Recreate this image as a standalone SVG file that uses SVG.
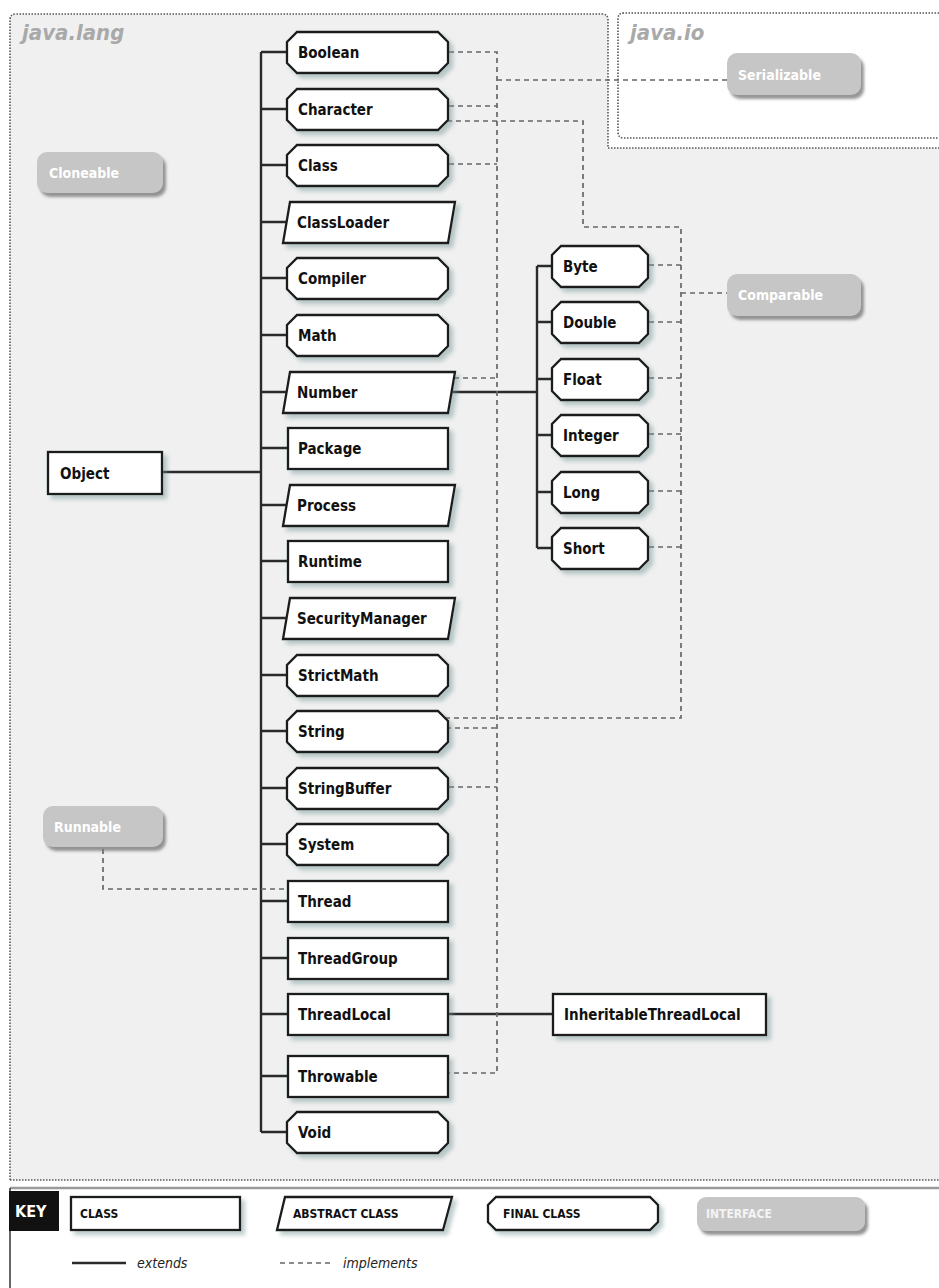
<svg xmlns="http://www.w3.org/2000/svg" width="939" height="1288" viewBox="0 0 939 1288">
  <defs>
    <filter id="sh" x="-10%" y="-20%" width="130%" height="160%">
      <feDropShadow dx="4" dy="4" stdDeviation="2" flood-color="#6f8f8f" flood-opacity="0.45"/>
    </filter>
    <filter id="ish" x="-10%" y="-20%" width="130%" height="160%">
      <feDropShadow dx="3" dy="4" stdDeviation="1.5" flood-color="#7a7a7a" flood-opacity="0.8"/>
    </filter>
    <style>
      .cls { fill: #ffffff; stroke: #1e1e1e; stroke-width: 2.3; filter: url(#sh); }
      .ifc { fill: #c6c6c6; filter: url(#ish); }
      .lbl { font-family: "DejaVu Sans Condensed", "DejaVu Sans", sans-serif; font-stretch: condensed; font-weight: bold; font-size: 15px; fill: #111111; }
      .ilbl { font-family: "DejaVu Sans Condensed", "DejaVu Sans", sans-serif; font-stretch: condensed; font-weight: bold; font-size: 14px; fill: #ffffff; }
      .pkg { font-family: "DejaVu Sans Condensed", "DejaVu Sans", sans-serif; font-stretch: condensed; font-weight: bold; font-style: italic; font-size: 22px; fill: #a9a9a9; }
      .klbl { font-family: "DejaVu Sans Condensed", "DejaVu Sans", sans-serif; font-stretch: condensed; font-weight: bold; font-size: 12px; fill: #111111; }
      .kit { font-family: "DejaVu Sans Condensed", "DejaVu Sans", sans-serif; font-stretch: condensed; font-style: italic; font-size: 14px; fill: #222222; }
      .ext { fill: none; stroke: #2a2a2a; stroke-width: 2.4; }
      .impl { fill: none; stroke: #666666; stroke-width: 1.7; stroke-dasharray: 5 4; }
      .bound { fill: none; stroke: #555555; stroke-width: 1.6; stroke-dasharray: 1.5 1.5; }
    </style>
  </defs>

  <!-- package areas -->
  <g id="pkg-java-lang">
    <path d="M10,1180 V20 Q10,14 16,14 H602 Q608,14 608,20 V148 H939 V1180 Z" fill="#f0f0f0"/>
    <path class="bound" d="M10,1180 V20 Q10,14 16,14 H602 Q608,14 608,20 V148 H939"/>
    <path class="bound" d="M10,1180 H939"/>
    <text class="pkg" x="22" y="40">java.lang</text>
  </g>
  <g id="pkg-java-io">
    <path class="bound" d="M945,13 H624 Q618,13 618,19 V132 Q618,138 624,138 H945"/>
    <text class="pkg" x="630" y="40">java.io</text>
  </g>

  <!-- connectors -->
  <g id="connectors">
    <!-- extends -->
    <path class="ext" d="M162,472 H261"/>
    <path class="ext" d="M261,52 V1132"/>
    <path class="ext" d="M261,52 H288 M261,109 H288 M261,165 H288 M261,222 H287 M261,278 H288 M261,335 H288 M261,392 H286 M261,448 H288 M261,505 H286 M261,561 H288 M261,618 H286 M261,675 H288 M261,731 H288 M261,788 H288 M261,844 H288 M261,901 H288 M261,958 H288 M261,1014 H288 M261,1076 H288 M261,1132 H288"/>
    <path class="ext" d="M452,392 H537 M537,266 V548"/>
    <path class="ext" d="M537,266 H552 M537,322 H552 M537,379 H552 M537,435 H552 M537,492 H552 M537,548 H552"/>
    <path class="ext" d="M448,1014 H553"/>
    <!-- implements: Serializable -->
    <path class="impl" d="M449,52 H497 V1073 H449"/>
    <path class="impl" d="M449,106 H497 M449,164 H497 M454,378 H497 M446,728 H497 M449,787 H497"/>
    <path class="impl" d="M497,80 H727"/>
    <!-- implements: Comparable -->
    <path class="impl" d="M447,121 H583 V227 H681 V718 H445"/>
    <path class="impl" d="M649,265 H681 M649,322 H681 M649,378 H681 M649,434 H681 M649,491 H681 M649,547 H681"/>
    <path class="impl" d="M681,293 H727"/>
    <!-- implements: Runnable -->
    <path class="impl" d="M103,849 V889 H288"/>
  </g>

  <!-- interfaces -->
  <g id="Cloneable"><rect class="ifc" x="37" y="152" width="126" height="41" rx="10"/><text class="ilbl" x="49" y="178">Cloneable</text></g>
  <g id="Serializable"><rect class="ifc" x="727" y="53" width="134" height="42" rx="10"/><text class="ilbl" x="738" y="80">Serializable</text></g>
  <g id="Comparable"><rect class="ifc" x="727" y="274" width="134" height="42" rx="10"/><text class="ilbl" x="738" y="300">Comparable</text></g>
  <g id="Runnable"><rect class="ifc" x="43" y="806" width="120" height="41" rx="10"/><text class="ilbl" x="54" y="832">Runnable</text></g>

  <!-- classes -->
  <g id="Object"><rect class="cls" x="48" y="452" width="114" height="42"/><text class="lbl" x="60" y="479">Object</text></g>

  <g id="Boolean"><polygon class="cls" points="297,32 438,32 448,42 448,63 438,73 297,73 287,63 287,42"/><text class="lbl" x="298" y="58">Boolean</text></g>
  <g id="Character"><polygon class="cls" points="297,89 438,89 448,99 448,120 438,130 297,130 287,120 287,99"/><text class="lbl" x="298" y="115">Character</text></g>
  <g id="Class"><polygon class="cls" points="297,145 438,145 448,155 448,176 438,186 297,186 287,176 287,155"/><text class="lbl" x="298" y="171">Class</text></g>
  <g id="ClassLoader"><polygon class="cls" points="290,202 455,202 448,243 283,243"/><text class="lbl" x="297" y="228">ClassLoader</text></g>
  <g id="Compiler"><polygon class="cls" points="297,258 438,258 448,268 448,289 438,299 297,299 287,289 287,268"/><text class="lbl" x="298" y="284">Compiler</text></g>
  <g id="Math"><polygon class="cls" points="297,315 438,315 448,325 448,346 438,356 297,356 287,346 287,325"/><text class="lbl" x="298" y="341">Math</text></g>
  <g id="Number"><polygon class="cls" points="290,372 455,372 448,413 283,413"/><text class="lbl" x="297" y="398">Number</text></g>
  <g id="Package"><rect class="cls" x="288" y="428" width="160" height="41"/><text class="lbl" x="298" y="454">Package</text></g>
  <g id="Process"><polygon class="cls" points="290,485 455,485 448,526 283,526"/><text class="lbl" x="297" y="511">Process</text></g>
  <g id="Runtime"><rect class="cls" x="288" y="541" width="160" height="41"/><text class="lbl" x="298" y="567">Runtime</text></g>
  <g id="SecurityManager"><polygon class="cls" points="290,598 455,598 448,639 283,639"/><text class="lbl" x="297" y="624">SecurityManager</text></g>
  <g id="StrictMath"><polygon class="cls" points="297,655 438,655 448,665 448,686 438,696 297,696 287,686 287,665"/><text class="lbl" x="298" y="681">StrictMath</text></g>
  <g id="String"><polygon class="cls" points="297,711 438,711 448,721 448,742 438,752 297,752 287,742 287,721"/><text class="lbl" x="298" y="737">String</text></g>
  <g id="StringBuffer"><polygon class="cls" points="297,768 438,768 448,778 448,799 438,809 297,809 287,799 287,778"/><text class="lbl" x="298" y="794">StringBuffer</text></g>
  <g id="System"><polygon class="cls" points="297,824 438,824 448,834 448,855 438,865 297,865 287,855 287,834"/><text class="lbl" x="298" y="850">System</text></g>
  <g id="Thread"><rect class="cls" x="288" y="881" width="160" height="41"/><text class="lbl" x="298" y="907">Thread</text></g>
  <g id="ThreadGroup"><rect class="cls" x="288" y="938" width="160" height="41"/><text class="lbl" x="298" y="964">ThreadGroup</text></g>
  <g id="ThreadLocal"><rect class="cls" x="288" y="994" width="160" height="41"/><text class="lbl" x="298" y="1020">ThreadLocal</text></g>
  <g id="Throwable"><rect class="cls" x="288" y="1056" width="160" height="41"/><text class="lbl" x="298" y="1082">Throwable</text></g>
  <g id="Void"><polygon class="cls" points="297,1112 438,1112 448,1122 448,1143 438,1153 297,1153 287,1143 287,1122"/><text class="lbl" x="298" y="1138">Void</text></g>

  <g id="Byte"><polygon class="cls" points="561,246 639,246 648,255 648,278 639,287 561,287 552,278 552,255"/><text class="lbl" x="563" y="272">Byte</text></g>
  <g id="Double"><polygon class="cls" points="561,302 639,302 648,311 648,334 639,343 561,343 552,334 552,311"/><text class="lbl" x="563" y="328">Double</text></g>
  <g id="Float"><polygon class="cls" points="561,359 639,359 648,368 648,391 639,400 561,400 552,391 552,368"/><text class="lbl" x="563" y="385">Float</text></g>
  <g id="Integer"><polygon class="cls" points="561,415 639,415 648,424 648,447 639,456 561,456 552,447 552,424"/><text class="lbl" x="563" y="441">Integer</text></g>
  <g id="Long"><polygon class="cls" points="561,472 639,472 648,481 648,504 639,513 561,513 552,504 552,481"/><text class="lbl" x="563" y="498">Long</text></g>
  <g id="Short"><polygon class="cls" points="561,528 639,528 648,537 648,560 639,569 561,569 552,560 552,537"/><text class="lbl" x="563" y="554">Short</text></g>

  <g id="InheritableThreadLocal"><rect class="cls" x="553" y="994" width="213" height="41"/><text class="lbl" x="564" y="1020">InheritableThreadLocal</text></g>

  <!-- legend -->
  <g id="key">
    <path d="M10,1188 H939" fill="none" stroke="#9a9a9a" stroke-width="2.5"/>
    <path d="M10,1188 V1288" fill="none" stroke="#333333" stroke-width="1.5"/>
    <rect x="9" y="1191" width="50" height="40" fill="#111111"/>
    <text x="15" y="1217" font-family="DejaVu Sans Condensed, DejaVu Sans, sans-serif" font-stretch="condensed" font-weight="bold" font-size="16" fill="#ffffff">KEY</text>
    <rect class="cls" x="71" y="1197" width="169" height="33"/>
    <text class="klbl" x="80" y="1218">CLASS</text>
    <polygon class="cls" points="285,1197 452,1197 443,1230 277,1230"/>
    <text class="klbl" x="293" y="1218">ABSTRACT CLASS</text>
    <polygon class="cls" points="496,1197 650,1197 658,1205 658,1222 650,1230 496,1230 488,1222 488,1205"/>
    <text class="klbl" x="503" y="1218">FINAL CLASS</text>
    <rect class="ifc" x="697" y="1197" width="168" height="34" rx="9"/>
    <text class="klbl" x="706" y="1218" style="fill:#f4f4f4">INTERFACE</text>
    <path class="ext" d="M72,1263 H126"/>
    <text class="kit" x="137" y="1268">extends</text>
    <path class="impl" d="M280,1263 H332"/>
    <text class="kit" x="343" y="1268">implements</text>
  </g>
</svg>
